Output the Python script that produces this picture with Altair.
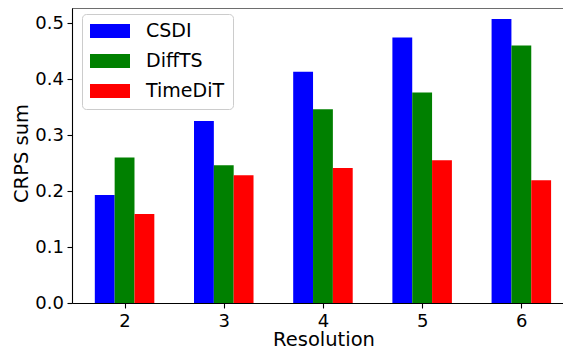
import altair as alt
import pandas as pd

resolutions = [2, 3, 4, 5, 6]
series = ["CSDI", "DiffTS", "TimeDiT"]
csdi = [0.193, 0.325, 0.413, 0.474, 0.507]
diffts = [0.260, 0.246, 0.346, 0.376, 0.460]
timedit = [0.159, 0.228, 0.241, 0.255, 0.219]
colors = ["#0000ff", "#008000", "#ff0000"]
y_ticks = [0.0, 0.1, 0.2, 0.3, 0.4, 0.5]
y_max = 0.5268

rows = []
for name, vals in zip(series, [csdi, diffts, timedit]):
    for r, v in zip(resolutions, vals):
        rows.append({"Resolution": r, "Model": name, "CRPS": v})
df = pd.DataFrame(rows)

FONT = "DejaVu Sans"

x_scale = alt.Scale(domain=[1.47, 6.42], nice=False, zero=False, padding=0)
y_scale = alt.Scale(domain=[0, y_max], nice=False, padding=0)

bars = (
    alt.Chart(df)
    .transform_calculate(
        off="datum.Model == 'CSDI' ? -0.2 : (datum.Model == 'DiffTS' ? 0 : 0.2)"
    )
    .transform_calculate(x0="datum.Resolution + datum.off - 0.1",
                         x1="datum.Resolution + datum.off + 0.1")
    .mark_bar(orient="vertical")
    .encode(
        x=alt.X(
            "x0:Q",
            scale=x_scale,
            axis=alt.Axis(
                values=resolutions,
                format="d",
                title="Resolution",
                grid=False,
                labelFontSize=18,
                labelFont=FONT,
                labelColor="black",
                labelPadding=4,
                labelBaseline="top",
                tickSize=5,
                tickWidth=1.1,
                tickColor="black",
                domainColor="black",
                domainWidth=1.1,
                titleFont=FONT,
                titleFontSize=19.5,
                titleFontWeight="normal",
                titleColor="black",
                titleX=251.5,
                titleY=42,
                titleAlign="center",
                titleBaseline="alphabetic",
            ),
        ),
        x2="x1:Q",
        y=alt.Y(
            "CRPS:Q",
            scale=y_scale,
            axis=alt.Axis(
                values=y_ticks,
                format=".1f",
                title="CRPS sum",
                grid=False,
                labelFontSize=18,
                labelFont=FONT,
                labelColor="black",
                labelPadding=3.5,
                tickSize=5,
                tickWidth=1.1,
                tickColor="black",
                domainColor="black",
                domainWidth=1.1,
                titleFont=FONT,
                titleFontSize=19.5,
                titleFontWeight="normal",
                titleColor="black",
                titleAngle=270,
                titleX=-44.5,
                titleY=145,
                titleAlign="center",
                titleBaseline="alphabetic",
            ),
        ),
        y2=alt.datum(0),
        color=alt.Color(
            "Model:N",
            scale=alt.Scale(domain=series, range=colors),
            sort=series,
            legend=alt.Legend(
                title=None,
                orient="none",
                legendX=10,
                legendY=6,
                symbolType="M-1,-0.35H1V0.35H-1Z",
                symbolSize=1600,
                symbolStrokeWidth=0,
                symbolOpacity=1,
                labelFontSize=19,
                labelFont=FONT,
                labelColor="black",
                labelOffset=16,
                clipHeight=18,
                rowPadding=11,
                padding=8,
                fillColor="rgba(255,255,255,0.8)",
                strokeColor="#cccccc",
                cornerRadius=4,
            ),
        ),
    )
)

top_spine = (
    alt.Chart(pd.DataFrame({"top": [y_max]}))
    .mark_rule(color="black", strokeWidth=1.1)
    .encode(y=alt.Y("top:Q", scale=y_scale))
)

chart = (
    alt.layer(bars, top_spine)
    .properties(
        width=491,
        height=295,
        autosize=alt.AutoSizeParams(type="none"),
        padding={"left": 64, "top": 0, "right": 0, "bottom": 46},
    )
    .configure_view(strokeWidth=0)
    .configure(background="white")
)

chart.save("out.html", embed_options={"renderer": "svg", "actions": False})
